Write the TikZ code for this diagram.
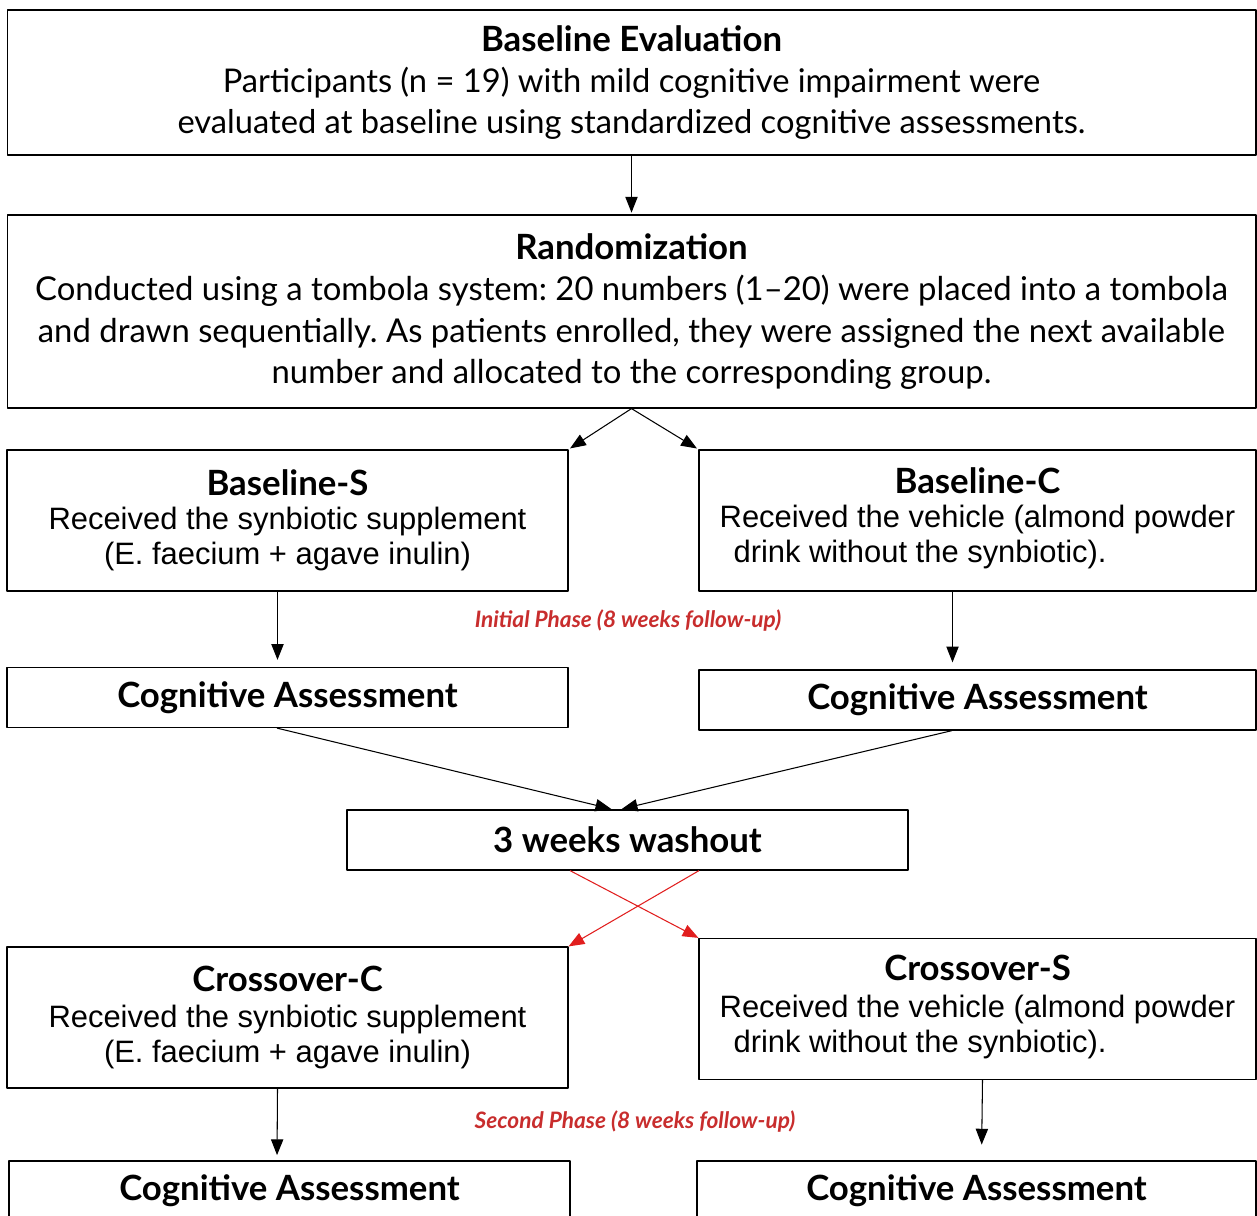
\documentclass[tikz,border=0pt]{standalone}
\usepackage{fontspec}
\setmainfont{Lato}
\newfontfamily\arialfont{Liberation Sans}
\usetikzlibrary{arrows.meta}
\definecolor{phasered}{RGB}{200,45,45}
\definecolor{crossred}{RGB}{225,30,30}
\newcommand{\boxtitle}[1]{{\rmfamily\bfseries\fontsize{19.8}{24}\selectfont #1}}
\frenchspacing
\tikzset{
	box/.style={draw, line width=0.7pt, inner sep=0pt, align=center},
	wide/.style={box, minimum width=24.98cm, font=\fontsize{18.6}{23.5}\selectfont},
	half/.style={box, minimum width=11.22cm, minimum height=2.82cm, font=\arialfont\fontsize{17.6}{20}\selectfont},
	assess/.style={box, minimum width=11.22cm, minimum height=1.2cm, font=\bfseries\fontsize{19.8}{23}\selectfont},
	phase/.style={text=phasered, font=\bfseries\itshape\fontsize{12.9}{14}\selectfont},
	link/.style={->, line width=0.6pt, shorten >=1pt},
	cross/.style={->, line width=0.6pt, crossred}
}
\begin{document}
\begin{tikzpicture}[x=0.02cm, y=-0.02cm, >={Triangle[length=9pt,width=7pt]}, line join=round]
	\clip (0,0) rectangle (1257,1216);
	% boxes
	\node[wide, minimum height=2.9cm] (base) at (631.5,82.5) {\boxtitle{Baseline Evaluation}\\
		Participants (n = 19) with mild cognitive impairment were\\
		evaluated at baseline using standardized cognitive assessments.};
	\node[wide, minimum height=3.86cm, font=\fontsize{18.7}{23.5}\selectfont] (rand) at (631.5,311.5) {\boxtitle{Randomization}\\
		Conducted using a tombola system: 20 numbers (1--20) were placed into a tombola\\
		and drawn sequentially. As patients enrolled, they were assigned the next available\\
		number and allocated to the corresponding group.};
	\node[half] (bs) at (287.5,520.5) {\boxtitle{Baseline-S}\\[-1pt]
		Received the synbiotic supplement\\
		(E. faecium + agave inulin)};
	\node[half, minimum width=11.14cm] (bc) at (977.5,520.5) {\boxtitle{Baseline-C}\\[-1pt]
		\begin{tabular}[t]{@{}l@{}}Received the vehicle (almond powder\\ \hspace{0.45em}drink without the synbiotic).\end{tabular}};
	\node[assess] (cal) at (287.5,697.5) {Cognitive Assessment};
	\node[assess, minimum width=11.14cm] (car) at (977.5,700) {Cognitive Assessment};
	\node[assess] (wash) at (627.5,840) {3 weeks washout};
	\node[half, minimum height=2.82cm] (cc) at (287.5,1017.5) {\boxtitle{Crossover-C}\\[0pt]
		Received the synbiotic supplement\\
		(E. faecium + agave inulin)};
	\node[half, minimum width=11.14cm] (cs) at (977.5,1009) {\boxtitle{Crossover-S}\\[1pt]
		\begin{tabular}[t]{@{}l@{}}Received the vehicle (almond powder\\ \hspace{0.45em}drink without the synbiotic).\end{tabular}};
	\node[assess] (cbl) at (289.5,1191) {Cognitive Assessment};
	\node[assess, minimum width=11.18cm] (cbr) at (976.5,1191) {Cognitive Assessment};
	% phase labels
	\node[phase] (ini) at (628,621) {Initial Phase (8 weeks follow-up)};
	\node[phase] (sec) at (635,1122) {Second Phase (8 weeks follow-up)};
	% connectors
	\draw[link] (base.south) -- (rand.north);
	\draw[link] (rand.south) -- (bs.north east);
	\draw[link] (rand.south) -- (bc.north west);
	\draw[link, shorten >=4pt] ([xshift=-0.2cm]bs.south) -- ([xshift=-0.2cm]cal.north);
	\draw[link, shorten >=4pt] ([xshift=-0.5cm]bc.south) -- ([xshift=-0.5cm]car.north);
	\draw[link] ([xshift=-0.21cm]cal.south) -- ([xshift=-0.29cm]wash.north);
	\draw[link] ([xshift=-0.51cm]car.south) -- ([xshift=-0.15cm]wash.north);
	\draw[cross] ([xshift=-1.15cm]wash.south) -- (cs.north west);
	\draw[cross] ([xshift=1.43cm]wash.south) -- (cc.north east);
	\draw[link, shorten >=3pt] ([xshift=-0.2cm]cc.south) -- ([xshift=-0.25cm]cbl.north);
	\draw[link, shorten >=9pt] ([xshift=0.1cm]cs.south) -- ([xshift=0.1cm]cbr.north);
\end{tikzpicture}
\end{document}
